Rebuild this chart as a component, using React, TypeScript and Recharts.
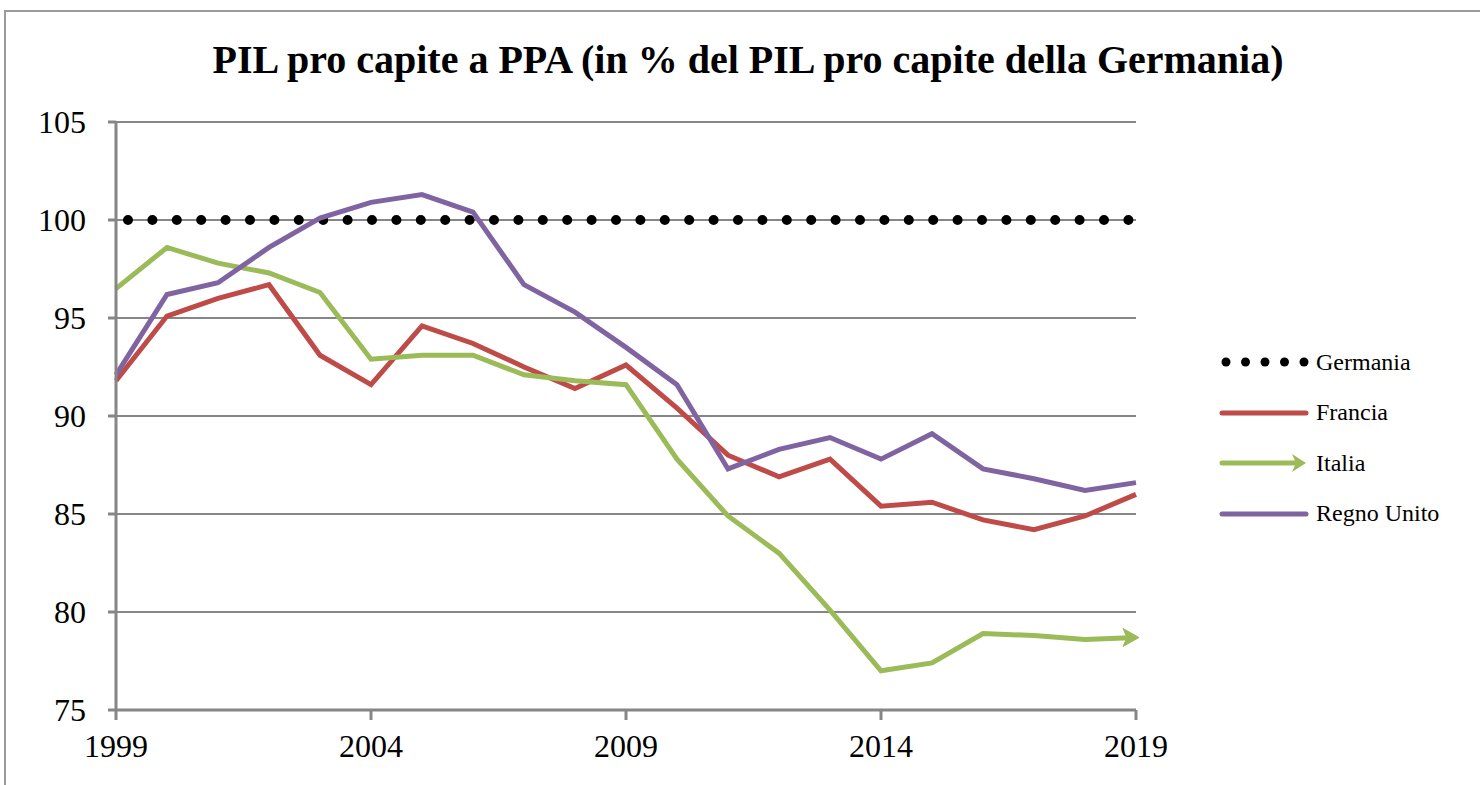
import React from "react";
import { LineChart, Line, XAxis, YAxis, CartesianGrid } from "recharts";

const years = [1999, 2000, 2001, 2002, 2003, 2004, 2005, 2006, 2007, 2008, 2009, 2010, 2011, 2012, 2013, 2014, 2015, 2016, 2017, 2018, 2019];
const germania = [100, 100, 100, 100, 100, 100, 100, 100, 100, 100, 100, 100, 100, 100, 100, 100, 100, 100, 100, 100, 100];
const francia = [91.8, 95.1, 96.0, 96.7, 93.1, 91.6, 94.6, 93.7, 92.5, 91.4, 92.6, 90.4, 88.0, 86.9, 87.8, 85.4, 85.6, 84.7, 84.2, 84.9, 86.0];
const italia = [96.5, 98.6, 97.8, 97.3, 96.3, 92.9, 93.1, 93.1, 92.1, 91.8, 91.6, 87.8, 84.9, 83.0, 80.1, 77.0, 77.4, 78.9, 78.8, 78.6, 78.7];
const regnoUnito = [92.1, 96.2, 96.8, 98.6, 100.1, 100.9, 101.3, 100.4, 96.7, 95.3, 93.5, 91.6, 87.3, 88.3, 88.9, 87.8, 89.1, 87.3, 86.8, 86.2, 86.6];
const xTicks = [1999, 2004, 2009, 2014, 2019];
const yTicks = [75, 80, 85, 90, 95, 100, 105];

const data = years.map((y, i) => ({
  year: y,
  Germania: germania[i],
  Francia: francia[i],
  Italia: italia[i],
  "Regno Unito": regnoUnito[i],
}));

const RED = "#BE4B48";
const GREEN = "#9BBB59";
const PURPLE = "#8064A2";
const GRID = "#868686";
const FONT = "'Liberation Serif', 'DejaVu Serif', serif";

const ArrowDot = (props: any) => {
  const { cx, cy, index } = props;
  if (index !== years.length - 1 || cx == null) return <g key={`a${index}`} />;
  const tip = cx + 3;
  return (
    <polygon
      key={`a${index}`}
      points={`${tip},${cy} ${tip - 16},${cy - 9} ${tip - 12},${cy} ${tip - 16},${cy + 9}`}
      fill={GREEN}
      stroke={GREEN}
      strokeWidth={1}
    />
  );
};

const legendItems = [
  { name: "Germania", kind: "dots", color: "#000" },
  { name: "Francia", kind: "line", color: RED },
  { name: "Italia", kind: "arrow", color: GREEN },
  { name: "Regno Unito", kind: "line", color: PURPLE },
];

export default function App() {
  return (
    <div style={{ position: "absolute", left: 0, top: 0, width: 1480, height: 785, background: "#fff", overflow: "hidden" }}>
      <div style={{ position: "absolute", left: 4, top: 10, width: 1500, height: 800, borderLeft: "2px solid #9a9a9a", borderTop: "2px solid #9a9a9a" }} />
      <div
        style={{
          position: "absolute",
          left: 0,
          width: 1496,
          top: 36,
          textAlign: "center",
          fontFamily: FONT,
          fontWeight: "bold",
          fontSize: 40,
          color: "#000",
        }}
      >
        PIL pro capite a PPA (in % del PIL pro capite della Germania)
      </div>
      <div style={{ position: "absolute", left: 0, top: 0 }}>
        <LineChart width={1480} height={785} data={data} margin={{ top: 122, right: 344, left: 36, bottom: 25 }}>
          <CartesianGrid horizontal vertical={false} stroke={GRID} strokeWidth={2} />
          <XAxis
            dataKey="year"
            type="number"
            domain={[1999, 2019]}
            ticks={xTicks}
            interval={0}
            height={50}
            stroke={GRID}
            strokeWidth={3}
            tickSize={10}
            tickMargin={14}
            tick={{ fill: "#000", fontSize: 32, fontFamily: FONT }}
          />
          <YAxis
            type="number"
            domain={[75, 105]}
            ticks={yTicks}
            interval={0}
            width={80}
            stroke={GRID}
            strokeWidth={3}
            tickSize={8}
            tickMargin={22}
            tick={{ fill: "#000", fontSize: 32, fontFamily: FONT }}
          />
          <Line
            dataKey="Germania"
            stroke="#000"
            strokeWidth={10}
            strokeDasharray="0 24.4"
            strokeDashoffset={12.4}
            strokeLinecap="round"
            dot={false}
            isAnimationActive={false}
          />
          <Line dataKey="Francia" stroke={RED} strokeWidth={5} dot={false} isAnimationActive={false} />
          <Line dataKey="Italia" stroke={GREEN} strokeWidth={5} dot={ArrowDot} isAnimationActive={false} />
          <Line dataKey="Regno Unito" stroke={PURPLE} strokeWidth={5} dot={false} isAnimationActive={false} />
        </LineChart>
      </div>
      {legendItems.map((it, i) => (
        <div key={it.name} style={{ position: "absolute", left: 1218, top: 347 + i * 50.5, height: 30, display: "flex", alignItems: "center" }}>
          <svg width={96} height={28}>
            {it.kind === "dots" &&
              [0, 1, 2, 3, 4].map((k) => <circle key={k} cx={8 + k * 19.5} cy={14} r={4.5} fill="#000" />)}
            {it.kind === "line" && <line x1={4} x2={88} y1={14} y2={14} stroke={it.color} strokeWidth={5} strokeLinecap="round" />}
            {it.kind === "arrow" && (
              <g>
                <line x1={4} x2={80} y1={14} y2={14} stroke={it.color} strokeWidth={5} strokeLinecap="round" />
                <polygon points="88,14 74,5 78,14 74,23" fill={it.color} />
              </g>
            )}
          </svg>
          <span style={{ fontFamily: FONT, fontSize: 24, color: "#000", marginLeft: 2 }}>{it.name}</span>
        </div>
      ))}
    </div>
  );
}
